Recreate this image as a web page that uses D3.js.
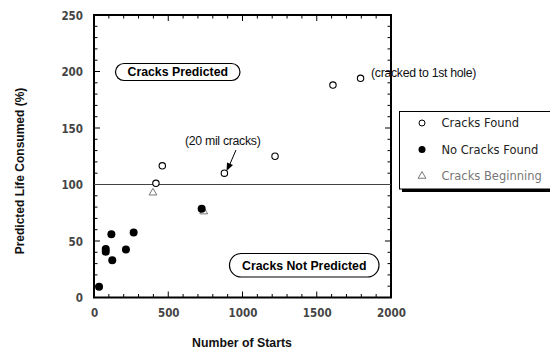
<!DOCTYPE html>
<html>
<head>
<meta charset="utf-8">
<script src="https://cdn.jsdelivr.net/npm/d3@7"></script>
<style>
html,body{margin:0;padding:0;background:#fff;}
svg{display:block;}
</style>
</head>
<body>
<svg id="chart" width="550" height="350"></svg>
<script>
// ---- data ----
const crackedX = [417, 460, 878, 1219, 1609, 1795];
const crackedY = [101, 116.5, 110, 125, 188, 194];
const noCrackX = [34, 79, 79, 117, 123, 215, 267, 725];
const noCrackY = [9.6, 43, 40.5, 56, 33, 42.5, 57.5, 78.5];
const beginX = [397, 739];
const beginY = [92.7, 76];
const xTicks = [0, 500, 1000, 1500, 2000];
const yTicks = [0, 50, 100, 150, 200, 250];
const legendLabels = ["Cracks Found", "No Cracks Found", "Cracks Beginning"];
const threshold = 100;

const svg = d3.select("#chart");
const L = 94, R = 391, T = 15, B = 297.5;
const x = d3.scaleLinear().domain([0, 2000]).range([L, R]);
const y = d3.scaleLinear().domain([0, 250]).range([B, T]);

const tickFont = "'Liberation Sans Narrow','DejaVu Sans Condensed',sans-serif";
const sans = "'Liberation Sans',Arial,sans-serif";

// minor ticks
const xMinor = d3.range(0, 2001, 100);
const yMinor = d3.range(0, 251, 10);

const axes = svg.append("g");
function tickLines(vals, isX, side) {
  vals.forEach(v => {
    const major = isX ? v % 500 === 0 : v % 50 === 0;
    const len = major ? 6 : 3.5;
    if (isX) {
      const px = x(v);
      const y0 = side === "bottom" ? B : T;
      const dir = side === "bottom" ? -1 : 1;
      axes.append("line").attr("x1", px).attr("x2", px).attr("y1", y0).attr("y2", y0 + dir * len)
        .attr("stroke", "#000").attr("stroke-width", 1);
    } else {
      const py = y(v);
      const x0 = side === "left" ? L : R;
      const dir = side === "left" ? 1 : -1;
      axes.append("line").attr("x1", x0).attr("x2", x0 + dir * len).attr("y1", py).attr("y2", py)
        .attr("stroke", "#000").attr("stroke-width", 1);
    }
  });
}
tickLines(xMinor, true, "bottom");
tickLines(xMinor, true, "top");
tickLines(yMinor, false, "left");
tickLines(yMinor, false, "right");

// frame
axes.append("rect").attr("x", L).attr("y", T).attr("width", R - L).attr("height", B - T)
  .attr("fill", "none").attr("stroke", "#000").attr("stroke-width", 2);

// tick labels via d3 axes (lines hidden)
const xAxis = d3.axisBottom(x).tickValues(xTicks).tickSize(0).tickPadding(0).tickFormat(d3.format("d"));
const gx = svg.append("g").attr("transform", `translate(0,${B + 16})`).call(xAxis);
gx.select(".domain").remove();
gx.selectAll("text").attr("font-family", tickFont).attr("font-weight", "bold").attr("font-size", 11.5).attr("fill", "#444").attr("dy", "0.3em").attr("y", 0);

const yAxis = d3.axisLeft(y).tickValues(yTicks).tickSize(0).tickPadding(0).tickFormat(d3.format("d"));
const gy = svg.append("g").attr("transform", `translate(${L - 11},0)`).call(yAxis);
gy.select(".domain").remove();
gy.selectAll("text").attr("font-family", tickFont).attr("font-weight", "bold").attr("font-size", 11.5).attr("fill", "#444").attr("dy", "0.35em").attr("x", 0);

// threshold line
svg.append("line").attr("x1", x(0)).attr("x2", x(2000)).attr("y1", y(threshold)).attr("y2", y(threshold))
  .attr("stroke", "#444").attr("stroke-width", 1);

// axis titles
svg.append("text").attr("x", 242).attr("y", 343).attr("dy", "0.35em").attr("text-anchor", "middle")
  .attr("font-family", sans).attr("font-weight", "bold").attr("font-size", 12.3).attr("fill", "#111")
  .text("Number of Starts");
svg.append("text").attr("transform", "translate(20,171) rotate(-90)").attr("dy", "0.35em").attr("text-anchor", "middle")
  .attr("font-family", sans).attr("font-weight", "bold").attr("font-size", 12).attr("fill", "#111")
  .text("Predicted Life Consumed (%)");

// region labels
function pill(x0, y0, w, h, label) {
  svg.append("rect").attr("x", x0).attr("y", y0).attr("width", w).attr("height", h)
    .attr("rx", h / 2).attr("ry", h / 2).attr("fill", "#fff").attr("stroke", "#000").attr("stroke-width", 1.2);
  svg.append("text").attr("x", x0 + w / 2).attr("y", y0 + h / 2).attr("dy", "0.36em").attr("text-anchor", "middle")
    .attr("font-family", sans).attr("font-weight", "bold").attr("font-size", 12.3).attr("fill", "#000").text(label);
}
pill(115.5, 63.5, 124.5, 17, "Cracks Predicted");
pill(229.5, 253.5, 149.5, 23.5, "Cracks Not Predicted");

// annotations
svg.append("text").attr("x", 185).attr("y", 141).attr("dy", "0.35em")
  .attr("font-family", sans).attr("font-size", 12.3).attr("letter-spacing", "-0.3").attr("fill", "#111").text("(20 mil cracks)");
svg.append("text").attr("x", 371).attr("y", 73).attr("dy", "0.35em")
  .attr("font-family", sans).attr("font-size", 12.3).attr("letter-spacing", "-0.3").attr("fill", "#111").text("(cracked to 1st hole)");
// arrow
svg.append("line").attr("x1", 236).attr("y1", 150).attr("x2", 229.5).attr("y2", 165)
  .attr("stroke", "#000").attr("stroke-width", 1);
svg.append("path").attr("d", "M226.5,171 L227,162.5 L233,165 Z").attr("fill", "#000");

// markers
const tri = d3.symbol().type(d3.symbolTriangle).size(26);
svg.append("g").selectAll("path").data(beginX.map((v, i) => [v, beginY[i]])).join("path")
  .attr("transform", d => `translate(${x(d[0])},${y(d[1])})`).attr("d", tri)
  .attr("fill", "#fff").attr("stroke", "#777").attr("stroke-width", 1);
svg.append("g").selectAll("circle").data(noCrackX.map((v, i) => [v, noCrackY[i]])).join("circle")
  .attr("cx", d => x(d[0])).attr("cy", d => y(d[1])).attr("r", 4).attr("fill", "#000");
svg.append("g").selectAll("circle").data(crackedX.map((v, i) => [v, crackedY[i]])).join("circle")
  .attr("cx", d => x(d[0])).attr("cy", d => y(d[1])).attr("r", 3.2).attr("fill", "#fff")
  .attr("stroke", "#000").attr("stroke-width", 1.1);

// legend
const lg = svg.append("g");
lg.append("rect").attr("x", 402).attr("y", 114).attr("width", 155).attr("height", 78).attr("fill", "#000");
lg.append("rect").attr("x", 399.5).attr("y", 111.5).attr("width", 155).attr("height", 77.5)
  .attr("fill", "#fff").attr("stroke", "#000").attr("stroke-width", 1);
const ly = [123, 149.5, 176];
lg.append("circle").attr("cx", 422).attr("cy", ly[0]).attr("r", 3).attr("fill", "#fff").attr("stroke", "#000").attr("stroke-width", 1);
lg.append("circle").attr("cx", 422).attr("cy", ly[1]).attr("r", 3.5).attr("fill", "#000");
lg.append("path").attr("transform", `translate(422,${ly[2]})`).attr("d", tri)
  .attr("fill", "#fff").attr("stroke", "#777").attr("stroke-width", 1);
lg.selectAll("text.lt").data(legendLabels).join("text").attr("class", "lt")
  .attr("x", 441.5).attr("y", (d, i) => ly[i]).attr("dy", "0.35em")
  .attr("font-family", "'DejaVu Sans',Verdana,sans-serif").attr("font-size", 11.5)
  .attr("fill", (d, i) => i === 2 ? "#777" : "#222").text(d => d);
</script>
</body>
</html>
